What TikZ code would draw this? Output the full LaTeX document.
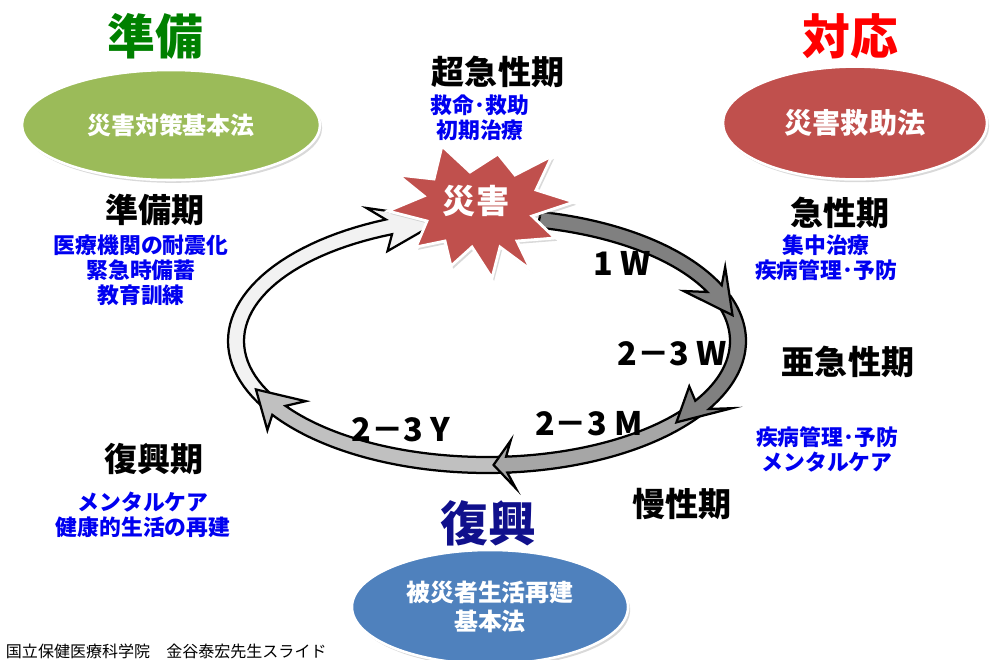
\documentclass[tikz,border=0pt]{standalone}
\usepackage{fontspec}
\setmainfont{Noto Sans CJK JP}
\usetikzlibrary{shapes,shadows}
\definecolor{law_green}{RGB}{155,187,89}
\definecolor{law_red}{RGB}{192,80,77}
\definecolor{law_blue}{RGB}{79,129,189}
\definecolor{title_green}{RGB}{0,128,0}
\definecolor{title_red}{RGB}{255,0,0}
\definecolor{title_navy}{RGB}{16,16,140}
\definecolor{care_blue}{RGB}{0,0,240}
\definecolor{ring_dark}{RGB}{128,128,128}
\definecolor{ring_mid}{RGB}{166,166,166}
\definecolor{ring_light}{RGB}{192,192,192}
\definecolor{ring_pale}{RGB}{242,242,242}
\tikzstyle{law}=[ellipse,draw=white,line width=1.8pt,text=white,align=center,
  font=\bfseries\fontsize{17}{20.5}\selectfont,
  drop shadow={opacity=0.3,shadow xshift=1.5pt,shadow yshift=-2pt}]
\tikzstyle{title}=[font=\bfseries\fontsize{34}{40}\selectfont]
\tikzstyle{phase}=[font=\bfseries\fontsize{23.5}{28}\selectfont]
\tikzstyle{care}=[text=care_blue,align=center,font=\bfseries\fontsize{15.5}{17.8}\selectfont]
\tikzstyle{dur}=[font=\bfseries\fontsize{23}{26}\selectfont]
% ring: centre, radii, half width (pixels)
\def\rcx{487}\def\rcy{341}\def\rra{251}\def\rrb{124}\def\rw{8}
% fill, start, base, barb, tip, head half width
\newcommand{\ringarrow}[6]{%
  \filldraw[fill=#1,draw=black,line width=1.6pt,line join=miter]
    plot[domain=#2:#3,samples=40] ({\rcx+(\rra+\rw)*cos(\x)},{\rcy+(\rrb+\rw)*sin(\x)})
    -- ({\rcx+(\rra+#6)*cos(#4)},{\rcy+(\rrb+#6)*sin(#4)})
    -- ({\rcx+\rra*cos(#5)},{\rcy+\rrb*sin(#5)})
    -- ({\rcx+(\rra-#6)*cos(#4)},{\rcy+(\rrb-#6)*sin(#4)})
    -- plot[domain=#3:#2,samples=40] ({\rcx+(\rra-\rw)*cos(\x)},{\rcy+(\rrb-\rw)*sin(\x)})
    -- cycle;}

\begin{document}
\begin{tikzpicture}[x=0.025cm,y=-0.025cm]
        \useasboundingbox (0,0) rectangle (995,659);
        % cycle
        \ringarrow{ring_pale}{150}{247}{244}{260}{24}
        \ringarrow{ring_light}{85}{146}{143}{157}{24}
        \ringarrow{ring_mid}{34}{85.5}{84}{88.5}{24}
        \ringarrow{ring_dark}{-20}{31}{27}{41}{24}
        \ringarrow{ring_dark}{-78}{-25}{-30}{-12}{24}
        \filldraw[fill=law_red,draw=white,line width=2pt,line join=miter,
          drop shadow={opacity=0.3,shadow xshift=1.5pt,shadow yshift=-2pt}]
          (442,146) -- (470,172) -- (498,154) -- (515,175) -- (552,156)
          -- (536,190) -- (574,202) -- (532,216) -- (555,238) -- (517,241)
          -- (531,270) -- (500,247) -- (492,278) -- (472,247) -- (451,266)
          -- (445,241) -- (416,247) -- (427,221) -- (388,211) -- (424,196)
          -- (398,175) -- (434,179) -- cycle;
        \node [text=white,font=\bfseries\fontsize{23.5}{28}\selectfont] (disaster) at (476,201) {災害};
        \node [style=dur] (w1) at (622,263) {1 W};
        \node [style=dur] (w23) at (672,354) {2－3 W};
        \node [style=dur] (m23) at (589,424) {2－3 M};
        \node [style=dur] (y23) at (401,430) {2－3 Y};
        % laws
        \node [style=title,text=title_green] (prep) at (155,36) {準備};
        \node [style=law,fill=law_green,minimum width=7.45cm,minimum height=2.75cm] (lawprep) at (171,125) {災害対策基本法};
        \node [style=title,text=title_red] (resp) at (850,36) {対応};
        \node [style=law,fill=law_red,minimum width=6.6cm,minimum height=2.82cm,
          font=\bfseries\fontsize{20}{24}\selectfont] (lawresp) at (855,123) {災害救助法};
        \node [style=title,text=title_navy] (recon) at (488,523) {復興};
        \node [style=law,fill=law_blue,minimum width=6.9cm,minimum height=2.85cm] (lawrecon) at (490,607) {被災者生活再建\\基本法};
        % phases
        \node [style=phase] (hyper) at (498,72) {超急性期};
        \node [style=care] (hypercare) at (480,118) {救命･救助\\初期治療};
        \node [style=phase] (prepph) at (155,210) {準備期};
        \node [style=care] (prepcare) at (141,270) {医療機関の耐震化\\緊急時備蓄\\教育訓練};
        \node [style=phase] (acute) at (840,213) {急性期};
        \node [style=care] (acutecare) at (826,258) {集中治療\\疾病管理･予防};
        \node [style=phase] (subacute) at (848,362) {亜急性期};
        \node [style=care] (subcare) at (827,449) {疾病管理･予防\\メンタルケア};
        \node [style=phase] (chronic) at (682,504) {慢性期};
        \node [style=phase] (recovph) at (154,459) {復興期};
        \node [style=care] (recovcare) at (143,515) {メンタルケア\\健康的生活の再建};
        \node [anchor=west,font=\fontsize{11.4}{13}\selectfont] (credit) at (1,651) {国立保健医療科学院　金谷泰宏先生スライド};
    \end{tikzpicture}
\end{document}
